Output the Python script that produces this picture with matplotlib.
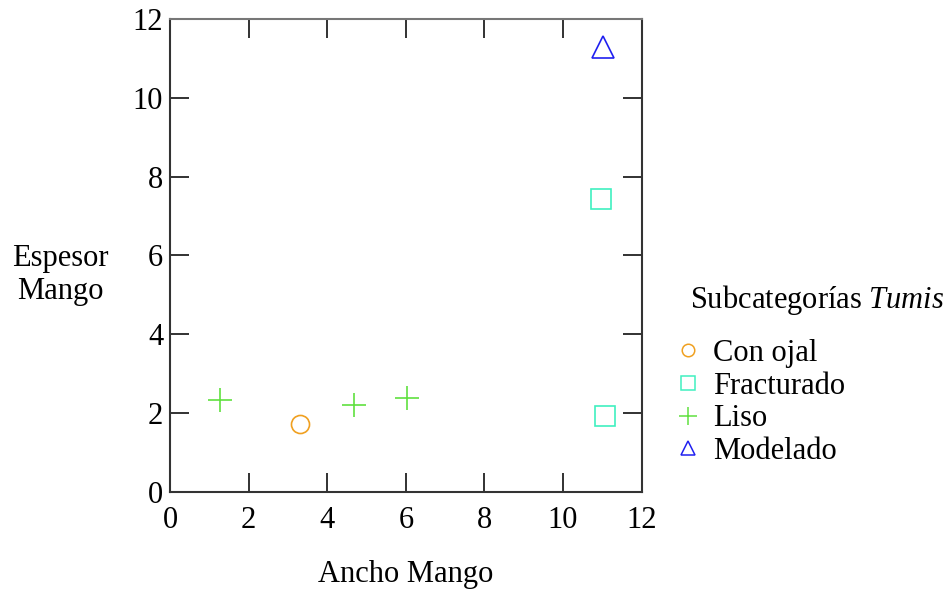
import numpy as np
import matplotlib
matplotlib.use('Agg')
import matplotlib.pyplot as plt
from matplotlib.lines import Line2D

plt.rcParams['font.family'] = ['Liberation Serif', 'DejaVu Serif']
plt.rcParams['mathtext.fontset'] = 'custom'
plt.rcParams['mathtext.it'] = 'Liberation Serif:italic'
plt.rcParams['mathtext.rm'] = 'Liberation Serif'

# data
categories = ['Con ojal', 'Fracturado', 'Liso', 'Modelado']
ancho = {
    'Con ojal': [3.30],
    'Fracturado': [11.06, 10.96],
    'Liso': [1.27, 4.68, 6.03],
    'Modelado': [11.01],
}
espesor = {
    'Con ojal': [1.73],
    'Fracturado': [1.93, 7.44],
    'Liso': [2.33, 2.21, 2.39],
    'Modelado': [11.28],
}
x_ticks = [0, 2, 4, 6, 8, 10, 12]
y_ticks = [0, 2, 4, 6, 8, 10, 12]

# styles
colors = {'Con ojal': '#f0a020', 'Fracturado': '#40f0c0', 'Liso': '#60e040', 'Modelado': '#2020f0'}
markers = {'Con ojal': 'o', 'Fracturado': 's', 'Liso': '+', 'Modelado': '^'}
msizes = {'Con ojal': 13, 'Fracturado': 14, 'Liso': 17, 'Modelado': 16.5}
leg_sizes = {'Con ojal': 9, 'Fracturado': 9.5, 'Liso': 13, 'Modelado': 10}

fig = plt.figure(figsize=(9.45, 5.9), dpi=100)
ax = fig.add_axes([0.180, 0.166, 0.499, 0.802])

for cat in categories:
    ax.plot(ancho[cat], espesor[cat], linestyle='none', marker=markers[cat],
            markersize=msizes[cat], markerfacecolor='none', markeredgecolor=colors[cat],
            markeredgewidth=1.2, color=colors[cat])

ax.set_xlim(0, 12)
ax.set_ylim(0, 12)
ax.set_xticks(x_ticks)
ax.set_yticks(y_ticks)
ax.tick_params(direction='in', length=14, width=1.3, color='#222222',
               top=True, right=True, labelsize=22)
ax.tick_params(axis='x', pad=10)
ax.tick_params(axis='y', pad=5)
for s in ax.spines.values():
    s.set_linewidth(1.5)
    s.set_color('#333333')
ax.spines['top'].set_color('#777777')

ax.set_xlabel('Ancho Mango', fontsize=22, va='center')
ax.xaxis.set_label_coords(0.5, -0.175)
ax.set_ylabel('Espesor\nMango', fontsize=22, rotation=0, ha='center', va='center',
              labelpad=0, linespacing=1.2)
ax.yaxis.set_label_coords(-0.233, 0.459)

fig.text(690 / 945, 1 - 300 / 590, 'Subcategorías $\\mathit{Tumis}$', fontsize=22,
         ha='left', va='center')

handles = [Line2D([], [], linestyle='none', marker=markers[c], markersize=leg_sizes[c],
                  markerfacecolor='none', markeredgecolor=colors[c], markeredgewidth=1.1)
           for c in categories]
leg = fig.legend(handles, categories, loc='upper left', bbox_to_anchor=(676 / 945, 1 - 339 / 590),
                 frameon=False, fontsize=22, handlelength=0.8, handletextpad=0.4,
                 labelspacing=0.12, borderaxespad=0, borderpad=0)

fig.savefig('out.png', dpi=100)
